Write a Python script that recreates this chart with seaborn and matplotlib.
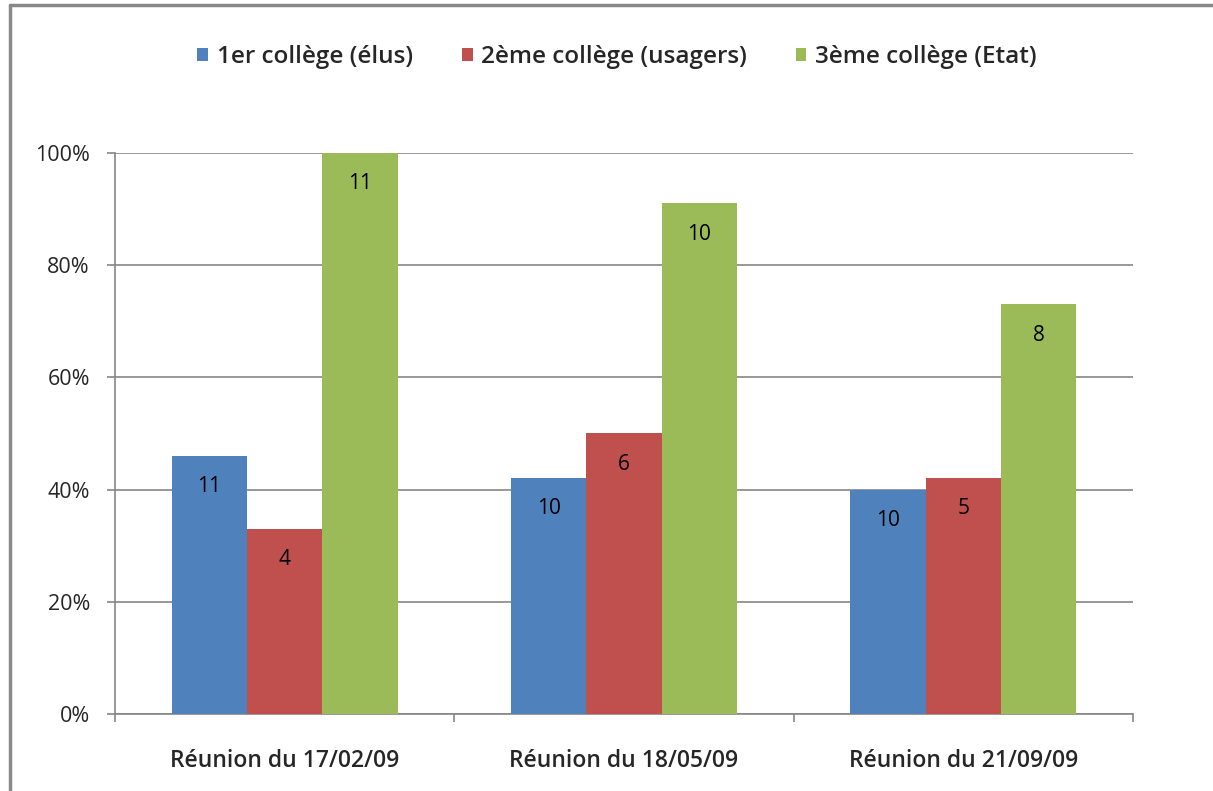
import matplotlib
matplotlib.use("Agg")
import matplotlib.pyplot as plt
import seaborn as sns
import pandas as pd
from matplotlib.lines import Line2D
from matplotlib.ticker import FixedLocator, PercentFormatter

categories = ["Réunion du 17/02/09", "Réunion du 18/05/09", "Réunion du 21/09/09"]
series = ["1er collège (élus)", "2ème collège (usagers)", "3ème collège (Etat)"]
elus = [46, 42, 40]
usagers = [33, 50, 42]
etat = [100, 91, 73]
labels_elus = ["11", "10", "10"]
labels_usagers = ["4", "6", "5"]
labels_etat = ["11", "10", "8"]
colors = ["#4F81BD", "#C0504D", "#9BBB59"]

rows = []
for s, vals in zip(series, [elus, usagers, etat]):
    for c, v in zip(categories, vals):
        rows.append({"cat": c, "serie": s, "val": v})
df = pd.DataFrame(rows)

sns.set_theme(style="white")
plt.rcParams['font.family'] = ['Open Sans', 'DejaVu Sans']

fig = plt.figure(figsize=(12.13, 7.91), dpi=100)
ax = fig.add_axes([115/1213, 77/791, 1018/1213, 561/791])
sns.barplot(data=df, x="cat", y="val", hue="serie", palette=colors,
            width=0.666, ax=ax, saturation=1, legend=True, zorder=3,
            linewidth=0, edgecolor="none")

for cont, labs in zip(ax.containers, [labels_elus, labels_usagers, labels_etat]):
    for p, lab in zip(cont.patches, labs):
        xc = p.get_x() + p.get_width() / 2
        ax.annotate(lab, xy=(xc, p.get_height()), xytext=(0, -22),
                    textcoords="offset points", ha="center", va="center",
                    fontsize=15, color="black")

ax.set_ylim(0, 100)
ax.set_xlim(-0.5, 2.5)
ax.set_yticks([0, 20, 40, 60, 80, 100])
ax.yaxis.set_major_formatter(PercentFormatter(decimals=0))
ax.yaxis.grid(True, color="#868686", linewidth=1.2, zorder=0)
ax.set_axisbelow(True)
ax.set_xlabel("")
ax.set_ylabel("")
ax.set_xticks([0, 1, 2])
ax.set_xticklabels(categories, fontsize=16.5, fontweight="semibold")
ax.xaxis.set_minor_locator(FixedLocator([-0.5, 0.5, 1.5, 2.5]))
ax.tick_params(axis="x", which="major", length=0, pad=25)
ax.tick_params(axis="x", which="minor", length=6, width=1.2, color="#868686", direction="out", bottom=True)
ax.tick_params(axis="y", length=6, width=1.2, color="#868686", direction="out", left=True, pad=12, labelsize=15.5)
for sp in ["top", "right"]:
    ax.spines[sp].set_visible(False)
for sp in ["left", "bottom"]:
    ax.spines[sp].set_color("#868686")
    ax.spines[sp].set_linewidth(1.2)

h, l = ax.get_legend_handles_labels()
ax.legend(h, l, loc="center", ncol=3, frameon=False,
          prop={"size": 17.5, "weight": "semibold"}, handlelength=0.45, handleheight=0.45,
          handletextpad=0.35, columnspacing=2.0)
leg = ax.get_legend()
leg.set_bbox_to_anchor((617/1213, (791-57)/791), transform=fig.transFigure)

fig.add_artist(Line2D([10/1213, 10/1213], [0, 1 - 5/791], transform=fig.transFigure, color="#888888", linewidth=2.5))
fig.add_artist(Line2D([10/1213, 1], [1 - 5/791, 1 - 5/791], transform=fig.transFigure, color="#888888", linewidth=2.5))

fig.savefig("out.png", dpi=100)
